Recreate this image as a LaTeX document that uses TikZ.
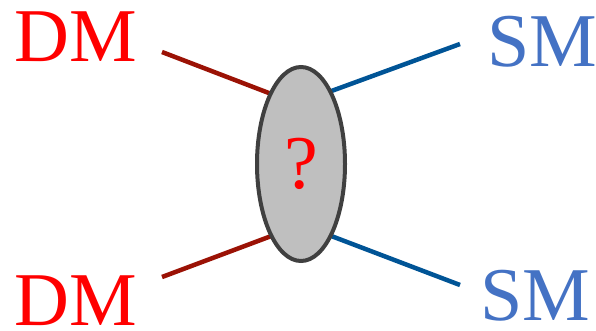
\documentclass[tikz,border=0pt]{standalone}
\usepackage{fontspec}
\setmainfont{Liberation Serif}
\usepackage{xcolor}
\usepackage{tikz}
\usetikzlibrary{shapes.geometric}
\usetikzlibrary{positioning}

\definecolor{dmred}{RGB}{255,0,0}
\definecolor{smblue}{RGB}{68,114,196}
\definecolor{dmline}{RGB}{155,18,5}
\definecolor{smline}{RGB}{0,84,150}

\begin{document}
\begin{tikzpicture}[x=1pt,y=1pt,
  label/.style={inner sep=0pt,font=\fontsize{76}{80}\selectfont},
  dmlabel/.style={label,text=dmred},
  smlabel/.style={label,text=smblue},
  dmleg/.style={draw=dmline,line width=4.5pt},
  smleg/.style={draw=smline,line width=4.5pt},
  blobstyle/.style={ellipse,draw=black!75,line width=4pt,fill=black!25,
    minimum width=88pt,minimum height=194pt,inner sep=0pt,text=dmred,
    font=\fontsize{76}{80}\selectfont}]
\useasboundingbox (0,0) rectangle (596,330);
% labels
\node[dmlabel,anchor=base west] (dmtop) at (14,268) {DM};
\node[dmlabel,anchor=base west] (dmbot) at (14,5) {DM};
\node[smlabel,anchor=base west] (smtop) at (487,263) {SM};
\node[smlabel,anchor=base west] (smbot) at (480,10) {SM};
% free ends of the legs
\coordinate (a1) at (162,278);
\coordinate (a2) at (162,53);
\coordinate (b1) at (460,286);
\coordinate (b2) at (460,45);
\coordinate (c1) at (274,235);
\coordinate (c2) at (274,95);
\coordinate (d1) at (326,237);
\coordinate (d2) at (326,96);
\draw[dmleg] (a1) -- (c1);
\draw[dmleg] (a2) -- (c2);
\draw[smleg] (b1) -- (d1);
\draw[smleg] (b2) -- (d2);
% vertex
\node[blobstyle] (blob) at (301,166) {?};
\end{tikzpicture}
\end{document}
